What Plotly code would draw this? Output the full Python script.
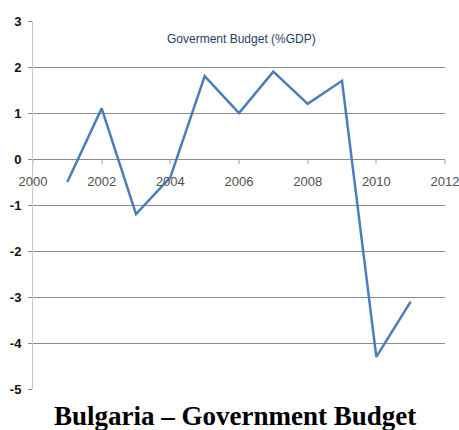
import plotly.graph_objects as go

# Bulgaria general government budget balance, % of GDP
years = [2001, 2002, 2003, 2004, 2005, 2006, 2007, 2008, 2009, 2010, 2011]
balance = [-0.5, 1.1, -1.2, -0.4, 1.8, 1.0, 1.9, 1.2, 1.7, -4.3, -3.1]

x_ticks = [2000, 2002, 2004, 2006, 2008, 2010, 2012]
y_ticks = [-5, -4, -3, -2, -1, 0, 1, 2, 3]

Y_MIN, Y_MAX = -5, 3

fig = go.Figure()
fig.add_trace(go.Scatter(
    x=years, y=balance, mode="lines",
    line=dict(color="#4A7EBB", width=2.5),
    hoverinfo="skip", showlegend=False,
))

fig.update_layout(
    width=459, height=430,
    margin=dict(l=33, r=14, t=21, b=41, autoexpand=False),
    paper_bgcolor="white", plot_bgcolor="white",
    xaxis=dict(
        range=[2000, 2012], tickvals=x_ticks,
        ticktext=[str(v) for v in x_ticks],
        showgrid=False, zeroline=False, showline=False,
        automargin=False, ticklabeloverflow="allow",
        anchor="free",
        # x-axis crosses the value axis at zero
        position=(0 - Y_MIN) / (Y_MAX - Y_MIN),
        ticks="outside", ticklen=4, tickcolor="#d0d0d0", tickwidth=2,
        ticklabelstandoff=6,
        tickfont=dict(family="Liberation Sans Narrow, Arial Narrow, Arial", size=13, color="#505050"),
    ),
    yaxis=dict(
        range=[Y_MIN, Y_MAX], tickvals=y_ticks,
        ticktext=[str(v) for v in y_ticks],
        showgrid=True, gridcolor="#8c8c8c", gridwidth=1,
        zeroline=False, showline=True, linecolor="#c8c8c8", linewidth=1,
        automargin=False,
        ticks="outside", ticklen=4, tickcolor="#8c8c8c",
        ticklabelstandoff=4,
        tickfont=dict(family="Liberation Sans, Arial", size=13, color="#111111", weight="bold"),
    ),
    annotations=[
        dict(text="Goverment Budget (%GDP)", xref="paper", yref="paper",
             x=0.505, y=0.95, xanchor="center", yanchor="middle", showarrow=False,
             font=dict(family="Liberation Sans Narrow, Arial Narrow, Arial", size=12, color="#1F3F66")),
        dict(text="<b>Bulgaria – Government Budget</b>", xref="paper", yref="paper",
             x=0.49, y=-0.074, xanchor="center", yanchor="middle", showarrow=False,
             font=dict(family="Liberation Serif, DejaVu Serif, serif", size=27, color="#000000")),
    ],
)

fig.write_html("out.html")
